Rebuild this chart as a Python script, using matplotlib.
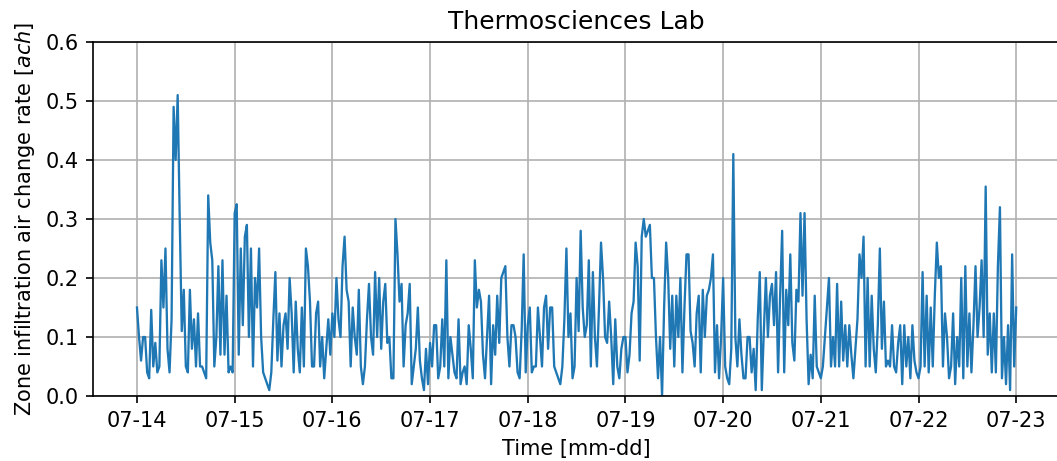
import matplotlib
matplotlib.use("Agg")
import matplotlib.pyplot as plt
import matplotlib.dates as mdates
import numpy as np
import pandas as pd

# half-hourly infiltration readings, one list per day (07-14 ... 07-22)
day_0714 = [0.15, 0.10, 0.06, 0.10, 0.10, 0.04, 0.03, 0.146, 0.05, 0.09, 0.04, 0.05,
            0.23, 0.15, 0.25, 0.08, 0.04, 0.13, 0.49, 0.40, 0.51, 0.30, 0.11, 0.18,
            0.05, 0.04, 0.18, 0.08, 0.13, 0.05, 0.14, 0.05, 0.05, 0.04, 0.03, 0.34,
            0.26, 0.23, 0.05, 0.10, 0.22, 0.07, 0.23, 0.07, 0.17, 0.04, 0.05, 0.04]
day_0715 = [0.31, 0.325, 0.07, 0.25, 0.12, 0.27, 0.29, 0.10, 0.25, 0.05, 0.20, 0.15,
            0.25, 0.10, 0.04, 0.03, 0.02, 0.01, 0.04, 0.13, 0.21, 0.06, 0.14, 0.05,
            0.12, 0.14, 0.08, 0.20, 0.14, 0.04, 0.16, 0.08, 0.04, 0.15, 0.05, 0.25,
            0.22, 0.16, 0.05, 0.05, 0.14, 0.16, 0.05, 0.10, 0.03, 0.08, 0.13, 0.07]
day_0716 = [0.14, 0.10, 0.20, 0.13, 0.10, 0.22, 0.27, 0.18, 0.16, 0.05, 0.15, 0.10,
            0.07, 0.18, 0.05, 0.02, 0.05, 0.13, 0.19, 0.10, 0.07, 0.21, 0.10, 0.20,
            0.08, 0.16, 0.19, 0.09, 0.10, 0.03, 0.03, 0.30, 0.24, 0.16, 0.19, 0.05,
            0.12, 0.14, 0.19, 0.02, 0.05, 0.08, 0.15, 0.06, 0.03, 0.01, 0.08, 0.02]
day_0717 = [0.09, 0.05, 0.12, 0.12, 0.03, 0.05, 0.13, 0.05, 0.23, 0.03, 0.10, 0.07,
            0.04, 0.03, 0.13, 0.02, 0.04, 0.05, 0.02, 0.12, 0.08, 0.03, 0.23, 0.15,
            0.18, 0.16, 0.07, 0.03, 0.10, 0.17, 0.02, 0.12, 0.07, 0.17, 0.09, 0.20,
            0.21, 0.22, 0.10, 0.05, 0.12, 0.12, 0.10, 0.04, 0.03, 0.11, 0.24, 0.04]
day_0718 = [0.12, 0.15, 0.04, 0.05, 0.05, 0.15, 0.10, 0.05, 0.15, 0.17, 0.08, 0.15,
            0.15, 0.05, 0.04, 0.03, 0.02, 0.05, 0.13, 0.25, 0.10, 0.14, 0.03, 0.05,
            0.20, 0.11, 0.28, 0.15, 0.10, 0.12, 0.23, 0.05, 0.21, 0.10, 0.05, 0.15,
            0.26, 0.20, 0.10, 0.09, 0.16, 0.10, 0.02, 0.13, 0.05, 0.03, 0.08, 0.10]
day_0719 = [0.10, 0.04, 0.07, 0.14, 0.16, 0.26, 0.22, 0.06, 0.27, 0.30, 0.27, 0.28,
            0.29, 0.20, 0.20, 0.10, 0.03, 0.10, 0.00, 0.15, 0.26, 0.20, 0.08, 0.17,
            0.05, 0.17, 0.10, 0.20, 0.04, 0.15, 0.24, 0.24, 0.11, 0.09, 0.05, 0.14,
            0.17, 0.04, 0.18, 0.10, 0.17, 0.18, 0.20, 0.24, 0.04, 0.12, 0.03, 0.10]
day_0720 = [0.20, 0.05, 0.03, 0.02, 0.08, 0.41, 0.10, 0.05, 0.13, 0.07, 0.03, 0.03,
            0.10, 0.10, 0.04, 0.08, 0.01, 0.13, 0.21, 0.01, 0.11, 0.20, 0.10, 0.17,
            0.19, 0.12, 0.21, 0.04, 0.17, 0.28, 0.04, 0.18, 0.12, 0.24, 0.09, 0.06,
            0.18, 0.16, 0.31, 0.17, 0.31, 0.13, 0.02, 0.07, 0.03, 0.17, 0.05, 0.04]
day_0721 = [0.03, 0.05, 0.10, 0.15, 0.20, 0.05, 0.10, 0.05, 0.19, 0.05, 0.16, 0.06,
            0.12, 0.05, 0.12, 0.07, 0.03, 0.08, 0.13, 0.24, 0.20, 0.27, 0.05, 0.20,
            0.05, 0.17, 0.08, 0.04, 0.12, 0.25, 0.08, 0.16, 0.05, 0.06, 0.05, 0.12,
            0.05, 0.04, 0.09, 0.12, 0.02, 0.12, 0.05, 0.10, 0.03, 0.12, 0.06, 0.04]
day_0722 = [0.03, 0.05, 0.21, 0.05, 0.17, 0.04, 0.15, 0.05, 0.17, 0.26, 0.20, 0.22,
            0.05, 0.14, 0.10, 0.03, 0.05, 0.14, 0.02, 0.10, 0.05, 0.20, 0.03, 0.22,
            0.05, 0.14, 0.04, 0.12, 0.22, 0.10, 0.15, 0.23, 0.10, 0.355, 0.07, 0.14,
            0.04, 0.14, 0.04, 0.22, 0.32, 0.03, 0.10, 0.02, 0.12, 0.01, 0.24, 0.05]
last_value = [0.15]  # 07-23 00:00

ach = np.array(day_0714 + day_0715 + day_0716 + day_0717 + day_0718 +
               day_0719 + day_0720 + day_0721 + day_0722 + last_value)
times = pd.date_range("2019-07-14 00:00", periods=len(ach), freq="30min")

fig, ax = plt.subplots(figsize=(1057 / 150, 461 / 150), dpi=150)
fig.subplots_adjust(left=0.088, right=1.003, top=0.909, bottom=0.141)

ax.plot(times, ach, color="#1f77b4", linewidth=1.1)
ax.set_ylim(0, 0.6)
ax.xaxis.set_major_locator(mdates.DayLocator())
ax.xaxis.set_major_formatter(mdates.DateFormatter("%m-%d"))
ax.grid(True)
ax.set_title("Thermosciences Lab")
ax.set_xlabel("Time [mm-dd]")
ax.set_ylabel("Zone infiltration air change rate [$ach$]")

fig.savefig("out.png", dpi=150)
